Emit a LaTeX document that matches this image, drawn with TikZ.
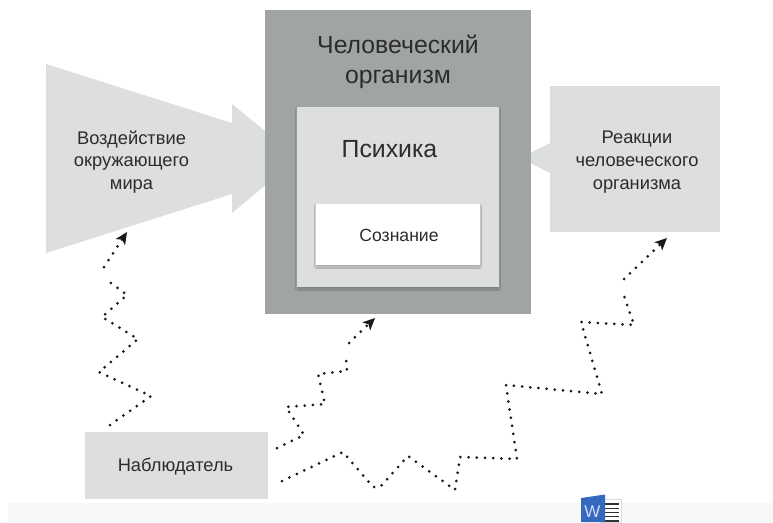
\documentclass[tikz,border=0pt]{standalone}
\usepackage{fontspec}
\setmainfont{Liberation Sans}
\usetikzlibrary{arrows.meta,shadows,shadows.blur}
\definecolor{darkbox}{HTML}{A0A5A3}
\definecolor{lightbox}{HTML}{DCDEE0}
\definecolor{inktext}{HTML}{2C2C2C}
\definecolor{bandgray}{HTML}{F8F8F8}
\definecolor{wordblue}{HTML}{3569BE}
\tikzset{
  x=1pt,y=-1pt,
  plainbox/.style={rectangle,inner sep=0pt,outer sep=0pt,anchor=north west,draw=none},
  softshadow/.style={blur shadow={shadow xshift=0pt,shadow yshift=-2pt,shadow blur radius=1.6pt,shadow opacity=22}},
  lbl/.style={text=inktext,align=center,inner sep=0pt},
  dotline/.style={line width=3pt,line cap=round,line join=round,dash pattern=on 0pt off 8.2pt,draw=black!90,-{Stealth[length=12pt,width=11pt,inset=3pt]}},
}
\begin{document}
\begin{tikzpicture}
\useasboundingbox (0,0) rectangle (773,522);
\fill[white] (0,0) rectangle (773,522);
\fill[bandgray] (8,503) rectangle (773,522);
% left arrow
\fill[lightbox] (46,64) -- (232,123) -- (232,104) -- (298,158) -- (232,213) -- (232,194) -- (46,253) -- cycle;
% right arrow
\fill[lightbox] (520,158) -- (552,142) -- (552,174) -- cycle;
\node[plainbox,fill=lightbox,minimum width=170pt,minimum height=146pt] (reac) at (550,86) {};
\node[plainbox,fill=darkbox,minimum width=266pt,minimum height=304pt] (org) at (265,10) {};
\node[plainbox,fill=lightbox,minimum width=202pt,minimum height=180pt,softshadow] (psy) at (297,107) {};
\node[plainbox,fill=white,minimum width=164pt,minimum height=61pt,softshadow] (con) at (316,204) {};
\node[plainbox,fill=lightbox,minimum width=183pt,minimum height=67pt] (obs) at (85,432) {};
% labels
\node[lbl,font=\fontsize{24.8}{30}\selectfont] (orgt) at (398,61.5) {Человеческий\\организм};
\node[lbl,font=\fontsize{24.8}{30}\selectfont] (psyt) at (389.5,149) {Психика};
\node[lbl,font=\fontsize{17.6}{20}\selectfont] (cont) at (399,235) {Сознание};
\node[lbl,font=\fontsize{18.3}{22.7}\selectfont] (leftt) at (131.5,162) {Воздействие\\окружающего\\мира};
\node[lbl,font=\fontsize{18.3}{22.7}\selectfont] (reactt) at (637,162) {Реакции\\человеческого\\организма};
\node[lbl,font=\fontsize{18.3}{22.7}\selectfont] (obst) at (175.5,467) {Наблюдатель};
% dotted connector coordinates
\coordinate (a0) at (110,425); \coordinate (a1) at (151,396); \coordinate (a2) at (99,372);
\coordinate (a3) at (138,339); \coordinate (a4) at (102,317); \coordinate (a5) at (127,295);
\coordinate (a6) at (107,280); \coordinate (a7) at (104,267); \coordinate (a8) at (127,232);
\draw[dotline] (a0) -- (a1) -- (a2) -- (a3) -- (a4) -- (a5) -- (a6) (a7) -- (a8);
\coordinate (b0) at (277,448); \coordinate (b1) at (304,435); \coordinate (b2) at (286,407);
\coordinate (b3) at (325,404); \coordinate (b4) at (318,374); \coordinate (b5) at (347,371);
\coordinate (b6) at (346,357); \coordinate (b7) at (349,343); \coordinate (b8) at (375,318);
\draw[dotline] (b0) -- (b1) -- (b2) -- (b3) -- (b4) -- (b5) -- (b6) (b7) -- (b8);
\coordinate (c0) at (282,481); \coordinate (c1) at (343,452); \coordinate (c2) at (373,487);
\coordinate (c3) at (380,487); \coordinate (c4) at (408,456); \coordinate (c5) at (455,490);
\coordinate (c6) at (460,457); \coordinate (c7) at (517,459); \coordinate (c8) at (506,385);
\coordinate (c9) at (602,394); \coordinate (c10) at (581,322); \coordinate (c11) at (634,325);
\coordinate (c12) at (623,293); \coordinate (c13) at (624,279); \coordinate (c14) at (667,238);
\draw[dotline] (c0) -- (c1) -- (c2) -- (c3) -- (c4) -- (c5) -- (c6) -- (c7) -- (c8) -- (c9) -- (c10) -- (c11) -- (c12) (c13) -- (c14);
% word icon
\fill[white,draw=black!15,line width=.4pt] (600,499.5) rectangle (621,522);
\foreach \yy in {504,508.3,512.6,516.9,521}{\draw[black!80,line width=1.1pt] (605,\yy) -- (619,\yy);}
\fill[wordblue] (581,498) -- (605,494.5) -- (605,522) -- (581,522) -- cycle;
\node[inner sep=0pt,text=white!85!blue,font=\fontsize{17}{17}\selectfont] (wordw) at (592.5,512) {W};
\end{tikzpicture}
\end{document}
